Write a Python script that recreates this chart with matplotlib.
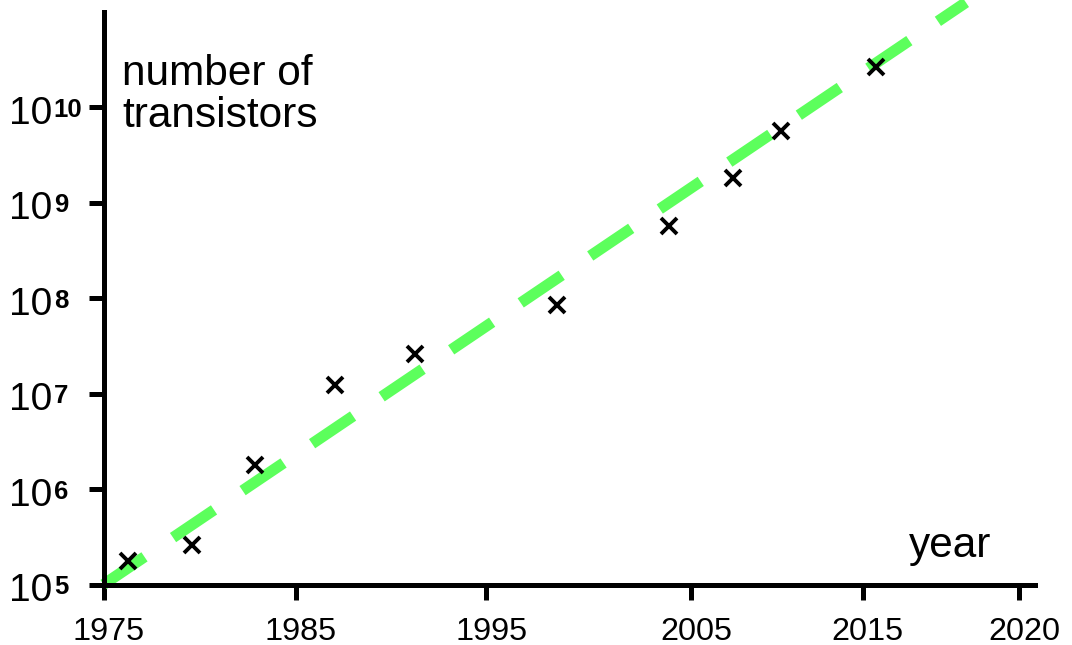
import matplotlib
matplotlib.use('Agg')
import matplotlib.pyplot as plt
import matplotlib.transforms as mtransforms

# Data
years = [1976.3, 1979.6, 1982.9, 1987.1, 1991.25, 1998.7, 2004.55, 2007.9, 2010.4, 2015.35]
transistors = [1.75e5, 2.6e5, 1.77e6, 1.22e7, 2.6e7, 8.5e7, 5.7e8, 1.8e9, 5.65e9, 2.65e10]
trend_years = [1975, 2020.05]
trend_values = [1e5, 1.26e11]
xtick_pos = [1975, 1985.05, 1995.0, 2005.7, 2014.65, 2022.85]
xtick_labels = ['1975', '1985', '1995', '2005', '2015', '2020']
ytick_exponents = [5, 6, 7, 8, 9, 10]

plt.rcParams['font.family'] = ['Liberation Sans', 'DejaVu Sans']

W, H = 1072, 645
fig = plt.figure(figsize=(W / 100, H / 100), dpi=100)
ax = fig.add_axes([103.5 / W, 1 - 584.5 / H, (1035 - 103.5) / W, (584.5 - 12) / H])
ax.set_yscale('log')

ax.plot(trend_years, trend_values, color='#5cff5c', lw=8, dashes=(4.45, 3.1),
        dash_capstyle='butt', solid_capstyle='butt', clip_on=False, zorder=2)
ax.plot(years, transistors, ls='none', marker='x', ms=12, mew=2.8, color='black',
        zorder=3, clip_on=False)

ax.set_xlim(1975, 2023.66)
ax.set_ylim(1e5, 1e11)

for s in ['top', 'right']:
    ax.spines[s].set_visible(False)
for s in ['left', 'bottom']:
    ax.spines[s].set_linewidth(3.6)
    ax.spines[s].set_color('black')

ax.set_yticks([10.0 ** e for e in ytick_exponents])
ax.set_yticklabels([''] * len(ytick_exponents))
ax.minorticks_off()
ax.set_xticks(xtick_pos)
ax.set_xticklabels(xtick_labels)
ax.tick_params(axis='both', which='major', width=3.6, length=11, direction='out', color='black')
ax.tick_params(axis='x', labelsize=23.3, pad=12.5)

offset = mtransforms.ScaledTranslation(5 / 100, 0, fig.dpi_scale_trans)
for lbl in ax.get_xticklabels():
    lbl.set_transform(lbl.get_transform() + offset)

ytrans = ax.get_yaxis_transform()
for e in ytick_exponents:
    t = ax.annotate('10', xy=(0, 10.0 ** e), xycoords=ytrans, xytext=(-94, -16.5),
                    textcoords='offset pixels', ha='left', va='baseline', fontsize=28,
                    annotation_clip=False)
    ax.annotate(str(e), xy=(1, 1), xycoords=t, xytext=(1, -2), textcoords='offset pixels',
                ha='left', va='top', fontsize=18.5, fontweight='bold', annotation_clip=False)

fig.text(122 / W, 1 - 54 / H, 'number of\ntransistors', fontsize=30.5, ha='left', va='top',
         linespacing=1.08)
fig.text(991 / W, (H - 557) / H, 'year', fontsize=30.5, ha='right', va='baseline')

fig.savefig('out.png', dpi=100)
